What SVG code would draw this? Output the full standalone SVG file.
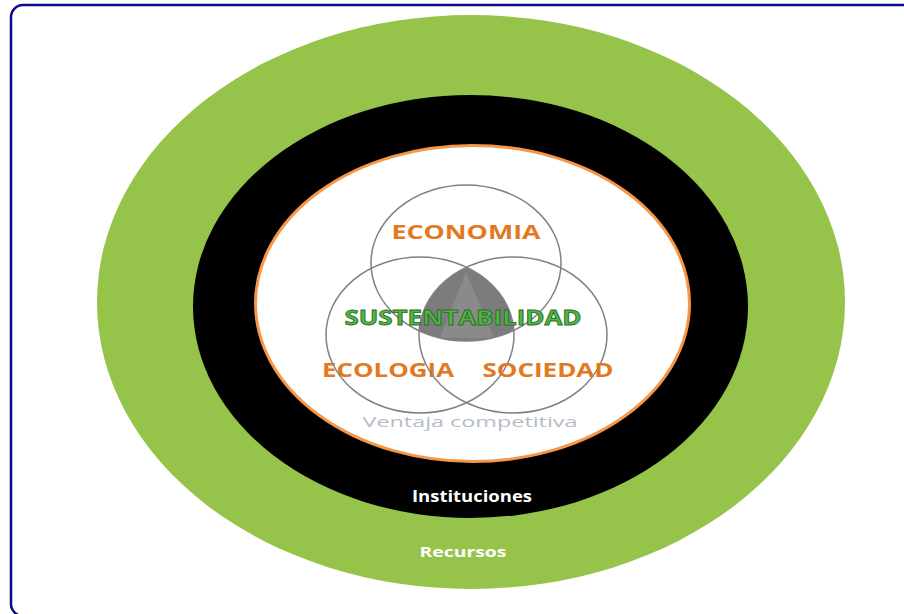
<svg xmlns="http://www.w3.org/2000/svg" width="904" height="614" viewBox="0 0 904 614">
<style>
.venn{fill:none;stroke:#808080;stroke-width:1.5}
.lbl{font-family:"Open Sans","Liberation Sans",Arial,sans-serif;font-weight:bold;text-anchor:middle}
.org{fill:#E3791F}
.wht{fill:#ffffff}
</style>
<defs>
<clipPath id="cl"><ellipse cx="420" cy="335" rx="94" ry="78"/></clipPath>
<clipPath id="cr"><ellipse cx="513" cy="335" rx="94" ry="78"/></clipPath>
</defs>
<rect x="0" y="0" width="904" height="614" fill="#ffffff"/>
<rect id="frame" x="11" y="5" width="910" height="611" rx="12" fill="none" stroke="#0A0A8A" stroke-width="2.5"/>
<g id="recursos">
<ellipse cx="471" cy="302" rx="374" ry="287" fill="#96C34A"/>
<text class="lbl wht" x="463" y="557" font-size="15" textLength="87" lengthAdjust="spacingAndGlyphs">Recursos</text>
</g>
<g id="instituciones">
<ellipse cx="470.5" cy="306.5" rx="277.5" ry="211.5" fill="#000000"/>
<text class="lbl wht" x="472" y="502" font-size="16" textLength="120" lengthAdjust="spacingAndGlyphs">Instituciones</text>
</g>
<g id="ventaja">
<ellipse cx="472.5" cy="303.5" rx="217" ry="158" fill="#ffffff" stroke="#F79646" stroke-width="3"/>
<text x="470" y="427" font-family="Open Sans,Liberation Sans,Arial,sans-serif" font-size="15" fill="#B4BCC8" text-anchor="middle" textLength="215" lengthAdjust="spacingAndGlyphs">Ventaja competitiva</text>
</g>
<g id="sustentabilidad">
<g clip-path="url(#cl)"><g clip-path="url(#cr)">
<ellipse cx="466" cy="263" rx="95" ry="78" fill="#7C7C7C"/>
<polygon points="466,272 440,338 494,338" fill="#8A8A8A"/>
</g></g>
</g>
<g id="economia">
<ellipse class="venn" cx="466" cy="263" rx="95" ry="78"/>
<text class="lbl org" x="466" y="239" font-size="20" textLength="149" lengthAdjust="spacingAndGlyphs">ECONOMIA</text>
</g>
<g id="ecologia">
<ellipse class="venn" cx="420" cy="335" rx="94" ry="78"/>
<text class="lbl org" x="388" y="377" font-size="20" textLength="132" lengthAdjust="spacingAndGlyphs">ECOLOGIA</text>
</g>
<g id="sociedad">
<ellipse class="venn" cx="513" cy="335" rx="94" ry="78"/>
<text class="lbl org" x="548" y="377" font-size="20" textLength="131" lengthAdjust="spacingAndGlyphs">SOCIEDAD</text>
</g>
<g id="sustentabilidad-label">
<text class="lbl" x="463" y="325" font-size="21" fill="#4DBA3F" stroke="#2E6B2A" stroke-width="0.8" textLength="237" lengthAdjust="spacingAndGlyphs">SUSTENTABILIDAD</text>
</g>
<g id="connectors"></g>
</svg>
